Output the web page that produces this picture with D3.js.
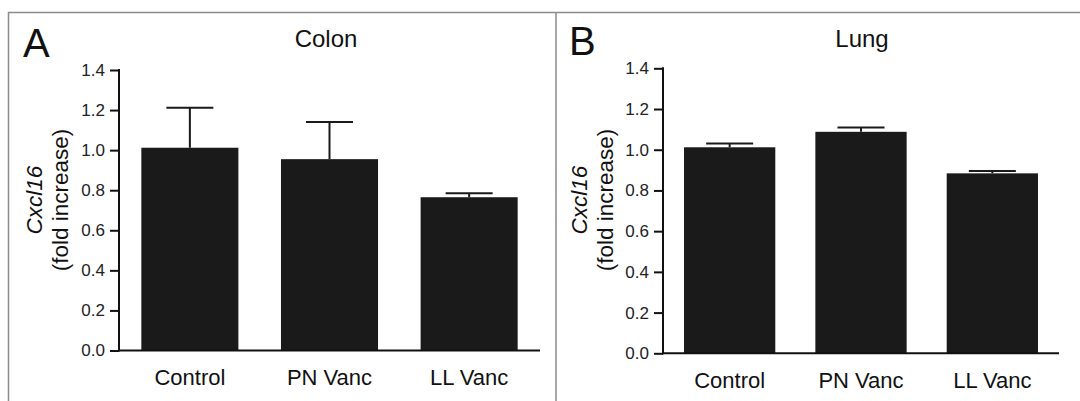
<!DOCTYPE html>
<html><head><meta charset="utf-8">
<script src="https://cdn.jsdelivr.net/npm/d3@7/dist/d3.min.js"></script>
<style>body{margin:0;background:#fff}svg{display:block}text{font-family:"Liberation Sans",Arial,sans-serif}</style>
</head><body>
<svg id="c" width="1080" height="401"></svg>
<script>
const categories = ["Control", "PN Vanc", "LL Vanc"];
const colonMean = [1.012, 0.955, 0.765];
const colonErr  = [0.200, 0.185, 0.020];
const lungMean  = [1.012, 1.088, 0.884];
const lungErr   = [0.018, 0.021, 0.012];
const yTicks = [0, 0.2, 0.4, 0.6, 0.8, 1.0, 1.2, 1.4];
const panels = [
  {letter:"A", title:"Colon", mean:colonMean, err:colonErr,
   xr:[119,540], yr:[350.5,70], letterX:23, titleX:326, labX:[42,68]},
  {letter:"B", title:"Lung", mean:lungMean, err:lungErr,
   xr:[663,1059], yr:[353.3,68.3], letterX:569, titleX:862, labX:[587,613]}
];
const svg = d3.select("#c");
// frame
svg.append("path").attr("d","M8.5,401 V12.5 H1080 M556,12.5 V401")
  .attr("fill","none").attr("stroke","#8c8c8c").attr("stroke-width",1.5);

panels.forEach(p=>{
  const g = svg.append("g");
  const x = d3.scaleBand().domain(categories).range(p.xr).paddingInner(0.305).paddingOuter(0.16);
  const y = d3.scaleLinear().domain([0,1.4]).range(p.yr);
  g.append("text").attr("x",p.letterX).attr("y",p.yr[1]-13).attr("font-size",40).attr("fill","#111").text(p.letter);
  g.append("text").attr("x",p.titleX).attr("y",47).attr("text-anchor","middle").attr("font-size",24).attr("fill","#111").text(p.title);
  // bars
  g.selectAll("rect.bar").data(categories).join("rect")
    .attr("x",d=>x(d)).attr("width",x.bandwidth())
    .attr("y",(d,i)=>y(p.mean[i])).attr("height",(d,i)=>y(0)-y(p.mean[i]))
    .attr("fill","#1a1a1a");
  // error bars
  const cap = 23.5;
  g.selectAll("path.err").data(categories).join("path")
    .attr("d",(d,i)=>{const cx=x(d)+x.bandwidth()/2, t=y(p.mean[i]+p.err[i]);
      return `M${cx},${y(p.mean[i])}V${t}M${cx-cap},${t}H${cx+cap}`;})
    .attr("stroke","#1a1a1a").attr("stroke-width",2).attr("fill","none");
  // y axis
  const ya = g.append("g").attr("transform",`translate(${p.xr[0]},0)`)
    .call(d3.axisLeft(y).tickValues(yTicks).tickFormat(d3.format(".1f")).tickSize(9).tickPadding(5).tickSizeOuter(0));
  ya.attr("font-size",null).attr("font-family",null);
  ya.select(".domain").attr("stroke","#111").attr("stroke-width",2).attr("d",`M0,${y(0)+1}V${y(1.4)-1}`);
  ya.selectAll(".tick line").attr("stroke","#111").attr("stroke-width",2);
  ya.selectAll(".tick text").style("font-size","17px").attr("fill","#222");
  // x axis
  const xa = g.append("g").attr("transform",`translate(0,${y(0)})`)
    .call(d3.axisBottom(x).tickSize(0).tickPadding(19).tickSizeOuter(0));
  xa.attr("font-size",null).attr("font-family",null);
  xa.select(".domain").attr("stroke","#111").attr("stroke-width",2).attr("d",`M${p.xr[0]-1},0H${p.xr[1]}`);
  xa.selectAll(".tick text").style("font-size","22px").attr("fill","#111");
  // y label
  const cy = 200;
  const lab = g.append("text").attr("transform",`translate(${p.labX[0]},${cy}) rotate(-90)`)
    .attr("text-anchor","middle").style("font-size","22.5px").attr("fill","#111");
  lab.append("tspan").attr("x",0).attr("y",0).attr("font-style","italic").text("Cxcl16");
  lab.append("tspan").attr("x",0).attr("y",p.labX[1]-p.labX[0]).text("(fold increase)");
});
</script>
</body></html>
